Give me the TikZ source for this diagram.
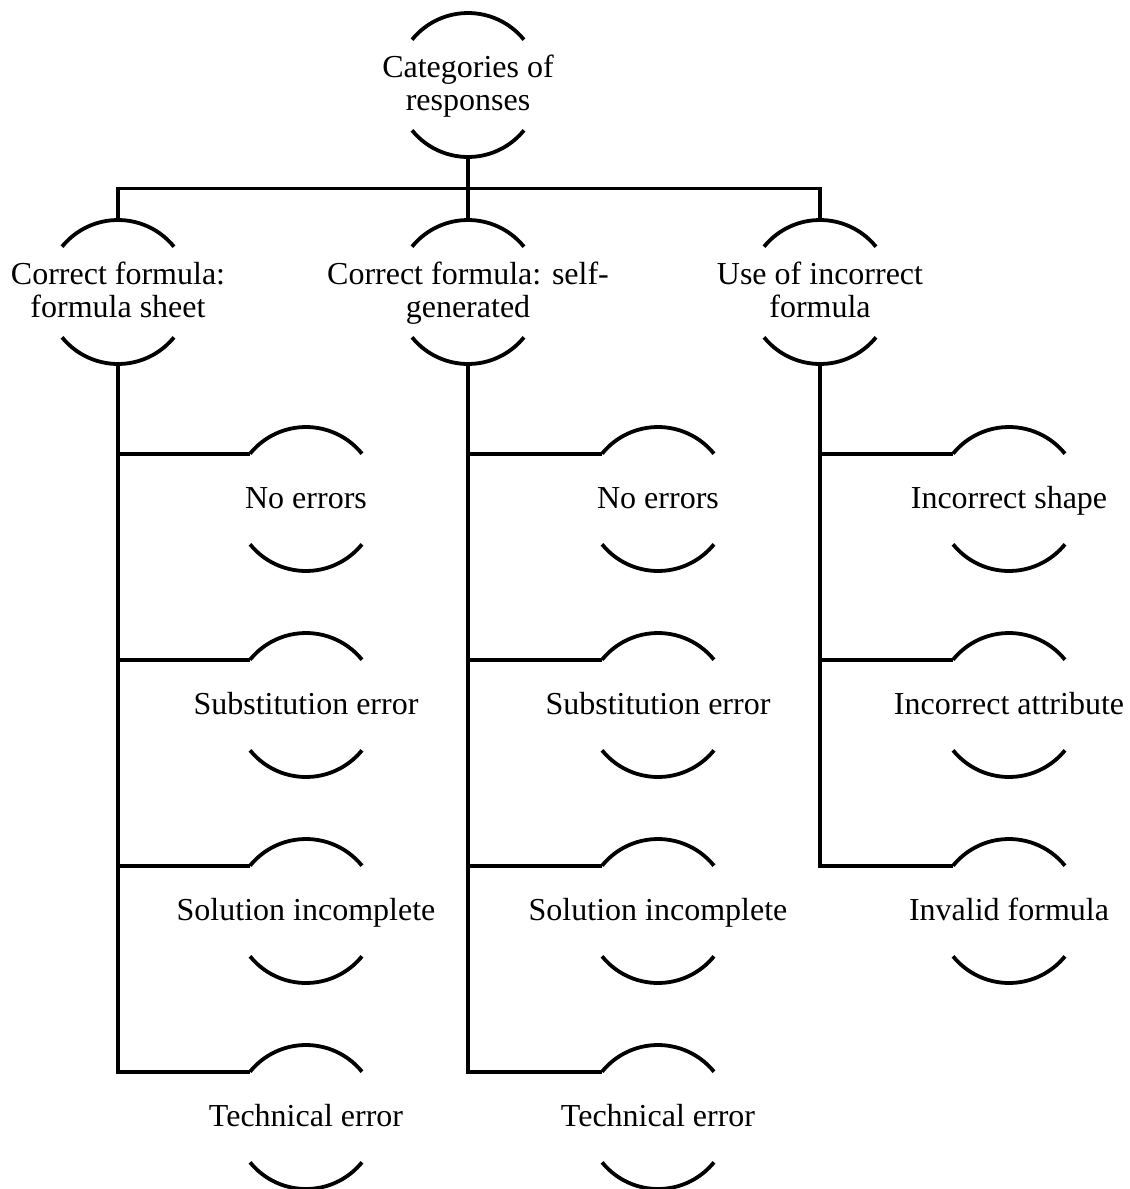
\documentclass[tikz,border=0pt]{standalone}
\usepackage{fontspec}
\setmainfont{Liberation Serif}
\usetikzlibrary{calc}

\begin{document}
\begin{tikzpicture}[x=1pt, y=1pt, line width=3.8pt,
  ring/.style={circle, minimum size=144pt, inner sep=0pt, outer sep=0pt},
  every label/.style={font=\fontsize{32}{33}\selectfont, align=center, inner sep=0pt,
    yshift=-2.5pt, execute at begin node=\strut, execute at end node=\strut}]
  \useasboundingbox (0,0) rectangle (1130,-1189);
  % Root and main categories
  \node[ring, label={center:Categories of\\responses}] (top) at (468,-85) {};
  \node[ring, label={center:Correct formula:\\formula sheet}] (c1) at (118,-292) {};
  \node[ring, label={center:Correct formula: self-\\generated}] (c2) at (468,-292) {};
  \node[ring, label={center:Use of incorrect\\formula}] (c3) at (820,-292) {};
  % Sub-categories
  \foreach \txt [count=\i] in {No errors, Substitution error, Solution incomplete, Technical error}
    \node[ring, label={center:\txt}] (a\i) at (306,{-499-206*(\i-1)}) {};
  \foreach \txt [count=\i] in {No errors, Substitution error, Solution incomplete, Technical error}
    \node[ring, label={center:\txt}] (b\i) at (658,{-499-206*(\i-1)}) {};
  \foreach \txt [count=\i] in {Incorrect shape, Incorrect attribute, Invalid formula}
    \node[ring, label={center:\txt}] (d\i) at (1009,{-499-206*(\i-1)}) {};
  % Arcs round every node
  \foreach \n in {top,c1,c2,c3,a1,a2,a3,a4,b1,b2,b3,b4,d1,d2,d3} {
    \draw (\n.39) arc[start angle=39, end angle=141, radius=72];
    \draw (\n.219) arc[start angle=219, end angle=321, radius=72];
  }
  % Tree lines
  \draw (top.south) -- (c2.north);
  \draw (c1.north) |- ($(top.south)!.5!(c2.north)$) -| (c3.north);
  \foreach \i in {1,...,4} {
    \draw (c1.south) |- (a\i.141);
    \draw (c2.south) |- (b\i.141);
  }
  \foreach \i in {1,...,3}
    \draw (c3.south) |- (d\i.141);
\end{tikzpicture}
\end{document}
